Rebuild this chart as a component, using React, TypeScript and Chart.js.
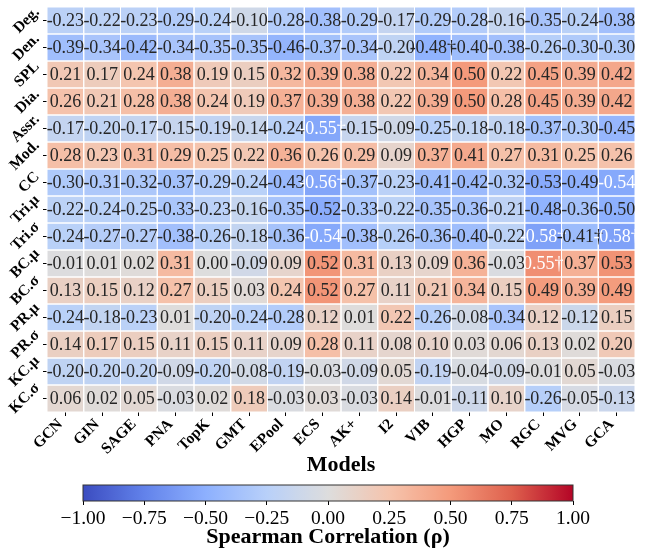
import React, { useEffect, useRef } from "react";
import { Chart, registerables } from "chart.js";

Chart.register(...registerables);

const SERIF = '"Liberation Serif", "DejaVu Serif", serif';

const models = ["GCN", "GIN", "SAGE", "PNA", "TopK", "GMT", "EPool", "ECS", "AK+", "I2", "VIB", "HGP", "MO", "RGC", "MVG", "GCA"];
const features = ["Deg.", "Den.", "SPL", "Dia.", "Assr.", "Mod.", "CC", "Tri.\u03bc", "Tri.\u03c3", "BC.\u03bc", "BC.\u03c3", "PR.\u03bc", "PR.\u03c3", "KC.\u03bc", "KC.\u03c3"];

const rowDeg = [-0.23, -0.22, -0.23, -0.29, -0.24, -0.10, -0.28, -0.38, -0.29, -0.17, -0.29, -0.28, -0.16, -0.35, -0.24, -0.38];
const rowDen = [-0.39, -0.34, -0.42, -0.34, -0.35, -0.35, -0.46, -0.37, -0.34, -0.20, -0.48, -0.40, -0.38, -0.26, -0.30, -0.30];
const rowSPL = [0.21, 0.17, 0.24, 0.38, 0.19, 0.15, 0.32, 0.39, 0.38, 0.22, 0.34, 0.50, 0.22, 0.45, 0.39, 0.42];
const rowDia = [0.26, 0.21, 0.28, 0.38, 0.24, 0.19, 0.37, 0.39, 0.38, 0.22, 0.39, 0.50, 0.28, 0.45, 0.39, 0.42];
const rowAssr = [-0.17, -0.20, -0.17, -0.15, -0.19, -0.14, -0.24, -0.55, -0.15, -0.09, -0.25, -0.18, -0.18, -0.37, -0.30, -0.45];
const rowMod = [0.28, 0.23, 0.31, 0.29, 0.25, 0.22, 0.36, 0.26, 0.29, 0.09, 0.37, 0.41, 0.27, 0.31, 0.25, 0.26];
const rowCC = [-0.30, -0.31, -0.32, -0.37, -0.29, -0.24, -0.43, -0.56, -0.37, -0.23, -0.41, -0.42, -0.32, -0.53, -0.49, -0.54];
const rowTriMu = [-0.22, -0.24, -0.25, -0.33, -0.23, -0.16, -0.35, -0.52, -0.33, -0.22, -0.35, -0.36, -0.21, -0.48, -0.36, -0.50];
const rowTriSd = [-0.24, -0.27, -0.27, -0.38, -0.26, -0.18, -0.36, -0.54, -0.38, -0.26, -0.36, -0.40, -0.22, -0.58, -0.41, -0.58];
const rowBCMu = [-0.01, 0.01, 0.02, 0.31, 0.00, -0.09, 0.09, 0.52, 0.31, 0.13, 0.09, 0.36, -0.03, 0.55, 0.37, 0.53];
const rowBCSd = [0.13, 0.15, 0.12, 0.27, 0.15, 0.03, 0.24, 0.52, 0.27, 0.11, 0.21, 0.34, 0.15, 0.49, 0.39, 0.49];
const rowPRMu = [-0.24, -0.18, -0.23, 0.01, -0.20, -0.24, -0.28, 0.12, 0.01, 0.22, -0.26, -0.08, -0.34, 0.12, -0.12, 0.15];
const rowPRSd = [0.14, 0.17, 0.15, 0.11, 0.15, 0.11, 0.09, 0.28, 0.11, 0.08, 0.10, 0.03, 0.06, 0.13, 0.02, 0.20];
const rowKCMu = [-0.20, -0.20, -0.20, -0.09, -0.20, -0.08, -0.19, -0.03, -0.09, 0.05, -0.19, -0.04, -0.09, -0.01, 0.05, -0.03];
const rowKCSd = [0.06, 0.02, 0.05, -0.03, 0.02, 0.18, -0.03, 0.03, -0.03, 0.14, -0.01, -0.11, 0.10, -0.26, -0.05, -0.13];

const values = [rowDeg, rowDen, rowSPL, rowDia, rowAssr, rowMod, rowCC, rowTriMu, rowTriSd, rowBCMu, rowBCSd, rowPRMu, rowPRSd, rowKCMu, rowKCSd];

// cells marked with a dagger: [featureIndex, modelIndex]
const daggerCells = [[1, 10], [4, 7], [6, 7], [8, 13], [8, 14], [8, 15], [9, 13]];

const colorbarTicks = [-1, -0.75, -0.5, -0.25, 0, 0.25, 0.5, 0.75, 1];

const COOLWARM = [
  [59, 76, 192], [98, 130, 234], [141, 176, 254], [184, 208, 249], [221, 221, 221],
  [245, 196, 173], [244, 154, 123], [222, 96, 77], [180, 4, 38],
];

function coolwarm(t: number): string {
  const tt = Math.max(0, Math.min(1, t)) * (COOLWARM.length - 1);
  const i = Math.min(Math.floor(tt), COOLWARM.length - 2);
  const f = tt - i;
  const a = COOLWARM[i], b = COOLWARM[i + 1];
  const c = a.map((v, k) => Math.round(v + (b[k] - v) * f));
  return `rgb(${c[0]},${c[1]},${c[2]})`;
}
const colorFor = (v: number) => coolwarm((v + 1) / 2);

const cells = values.flatMap((row, r) => row.map((v, c) => ({ x: c, y: r, v })));
const isDagger = (r: number, c: number) => daggerCells.some(([a, b]) => a === r && b === c);

const heatPlugin = {
  id: "heatCells",
  afterDatasetsDraw(chart: any) {
    const ctx = chart.ctx;
    const xs = chart.scales.x, ys = chart.scales.y;
    const meta = chart.getDatasetMeta(0);
    const cw = (xs.right - xs.left) / models.length;
    const ch = (ys.bottom - ys.top) / features.length;
    ctx.save();
    meta.data.forEach((el: any, k: number) => {
      ctx.fillStyle = colorFor(cells[k].v);
      ctx.fillRect(el.x - cw / 2, el.y - ch / 2, cw, ch);
    });
    ctx.strokeStyle = "#ffffff";
    ctx.lineWidth = 1;
    meta.data.forEach((el: any) => {
      ctx.strokeRect(el.x - cw / 2, el.y - ch / 2, cw, ch);
    });
    ctx.font = `18px ${SERIF}`;
    ctx.textAlign = "center";
    ctx.textBaseline = "middle";
    meta.data.forEach((el: any, k: number) => {
      const cell = cells[k];
      let txt = cell.v.toFixed(2);
      if (txt === "-0.00") txt = "0.00";
      if (isDagger(cell.y, cell.x)) txt += "\u2020";
      ctx.fillStyle = Math.abs(cell.v) >= 0.54 ? "#ffffff" : "#262626";
      ctx.fillText(txt, el.x, el.y + 1);
    });
    ctx.restore();
  },
  afterDraw(chart: any) {
    const ctx = chart.ctx;
    const xs = chart.scales.x, ys = chart.scales.y;
    const size = 15.5;
    const pad = 1;
    ctx.save();
    ctx.font = `bold ${size}px ${SERIF}`;
    ctx.fillStyle = "#000";
    ctx.textAlign = "center";
    ctx.textBaseline = "middle";
    models.forEach((lab, i) => {
      const px = xs.getPixelForValue(i);
      const w = ctx.measureText(lab).width;
      const side = (w + size * 0.9) / Math.SQRT2;
      const cx = px - side / 2;
      const cy = xs.top + 4 + pad + side / 2;
      ctx.save();
      ctx.translate(cx, cy);
      ctx.rotate(-Math.PI / 4);
      ctx.fillText(lab, 0, 0);
      ctx.restore();
    });
    features.forEach((lab, i) => {
      const py = ys.getPixelForValue(i);
      const w = ctx.measureText(lab).width;
      const side = (w + size * 0.9) / Math.SQRT2;
      const cx = ys.right - 4 - pad - side / 2;
      const cy = py;
      ctx.save();
      ctx.translate(cx, cy);
      ctx.rotate(-Math.PI / 4);
      ctx.fillText(lab, 0, 0);
      ctx.restore();
    });
    ctx.restore();
  },
};

const gradientPlugin = {
  id: "cbGradient",
  beforeDatasetsDraw(chart: any) {
    const ctx = chart.ctx;
    const { left, right, top, bottom } = chart.chartArea;
    const g = ctx.createLinearGradient(left, 0, right, 0);
    const n = 64;
    for (let i = 0; i <= n; i++) g.addColorStop(i / n, coolwarm(i / n));
    ctx.save();
    ctx.fillStyle = g;
    ctx.fillRect(left, top, right - left, bottom - top);
    ctx.strokeStyle = "#333";
    ctx.lineWidth = 1;
    ctx.strokeRect(left, top, right - left, bottom - top);
    ctx.restore();
  },
};

const MAIN_H = 490;
const CB_TOP = 470;
const CB_H = 82;

export default function App() {
  const mainRef = useRef<HTMLCanvasElement>(null);
  const cbRef = useRef<HTMLCanvasElement>(null);

  useEffect(() => {
    const main = new Chart(mainRef.current!, {
      type: "scatter",
      data: {
        datasets: [
          {
            data: cells.map((c) => ({ x: models[c.x], y: features[c.y] })) as any,
            pointRadius: 0,
            pointHoverRadius: 0,
          },
        ],
      },
      options: {
        responsive: false,
        animation: false,
        devicePixelRatio: 1,
        events: [],
        layout: { padding: { left: 0, right: 12, top: 7, bottom: 0 } },
        plugins: { legend: { display: false }, tooltip: { enabled: false } },
        scales: {
          x: {
            type: "category",
            labels: models,
            offset: true,
            position: "bottom",
            grid: { display: true, drawOnChartArea: false, drawTicks: true, tickLength: 4, offset: false, color: "#000", lineWidth: 1 },
            border: { display: false },
            ticks: { display: false },
            title: {
              display: true,
              text: "Models",
              color: "#000",
              font: { family: SERIF, size: 22, weight: "bold" },
              padding: { top: 0, bottom: 11 },
            },
            afterFit: (s: any) => {
              s.height = 78;
            },
          },
          y: {
            type: "category",
            labels: features,
            offset: true,
            position: "left",
            grid: { display: true, drawOnChartArea: false, drawTicks: true, tickLength: 4, offset: false, color: "#000", lineWidth: 1 },
            border: { display: false },
            ticks: { display: false },
            afterFit: (s: any) => {
              s.width = 47;
            },
          },
        },
      } as any,
      plugins: [heatPlugin],
    });

    const cb = new Chart(cbRef.current!, {
      type: "scatter",
      data: { datasets: [{ data: [], pointRadius: 0 }] },
      options: {
        responsive: false,
        animation: false,
        devicePixelRatio: 1,
        events: [],
        layout: { padding: { left: 83, right: 74, top: 15, bottom: 0 } },
        plugins: { legend: { display: false }, tooltip: { enabled: false } },
        scales: {
          x: {
            type: "linear",
            min: -1,
            max: 1,
            position: "bottom",
            afterBuildTicks: (s: any) => {
              s.ticks = colorbarTicks.map((v) => ({ value: v }));
            },
            grid: { display: true, drawOnChartArea: false, drawTicks: true, tickLength: 4, color: "#000", lineWidth: 1 },
            border: { display: false },
            ticks: {
              color: "#000",
              padding: 2,
              maxRotation: 0,
              autoSkip: false,
              font: { family: SERIF, size: 19.5 },
              callback: (v: any) => (Number(v) < 0 ? "\u2212" : "") + Math.abs(Number(v)).toFixed(2),
            },
            title: {
              display: true,
              text: "Spearman Correlation (\u03c1)",
              color: "#000",
              font: { family: SERIF, size: 22, weight: "bold" },
              padding: { top: 0, bottom: 1 },
            },
            afterFit: (s: any) => {
              s.height = 51;
            },
          },
          y: { display: false, min: 0, max: 1 },
        },
      } as any,
      plugins: [gradientPlugin],
    });

    return () => {
      main.destroy();
      cb.destroy();
    };
  }, []);

  return (
    <div style={{ position: "absolute", left: 0, top: 0, width: 647, height: 552, background: "#fff", overflow: "hidden" }}>
      <canvas ref={mainRef} width={647} height={MAIN_H} style={{ position: "absolute", left: 0, top: 0, width: 647, height: MAIN_H }} />
      <canvas ref={cbRef} width={647} height={CB_H} style={{ position: "absolute", left: 0, top: CB_TOP, width: 647, height: CB_H }} />
    </div>
  );
}
